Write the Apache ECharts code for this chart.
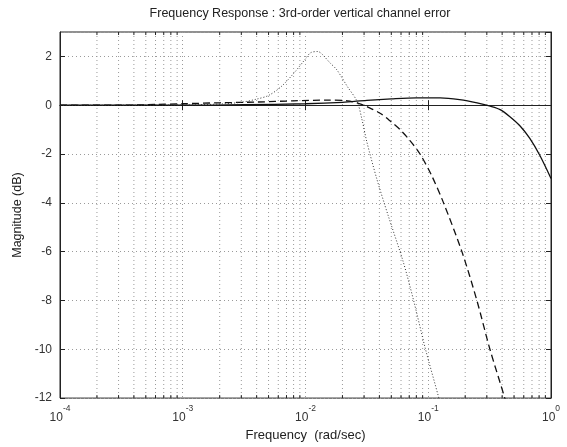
<!DOCTYPE html>
<html>
<head>
<meta charset="utf-8">
<script src="https://cdn.jsdelivr.net/npm/echarts@6/dist/echarts.min.js"></script>
<style>
html,body{margin:0;padding:0;background:#fff;}
#chart{width:567px;height:447px;}
</style>
</head>
<body>
<div id="chart"></div>
<script>
// ---- data (frequency in rad/sec, magnitude in dB) ----
var solidFreq = [0.0001, 0.001, 0.00316, 0.01, 0.02, 0.0316, 0.05, 0.08, 0.125, 0.18, 0.25, 0.32, 0.385, 0.46, 0.56, 0.67, 0.81, 1.0];
var solidDb   = [0, 0, 0.02, 0.06, 0.12, 0.2, 0.26, 0.3, 0.3, 0.23, 0.1, -0.04, -0.18, -0.46, -0.85, -1.35, -2.05, -3.0];

var dashedFreq = [0.0001, 0.0003, 0.0006, 0.001, 0.002, 0.004, 0.008, 0.015, 0.022, 0.0278, 0.0317, 0.0405, 0.0488, 0.0589, 0.071, 0.0857, 0.107, 0.132, 0.188, 0.249, 0.318, 0.42, 0.46];
var dashedDb   = [0, 0, 0.03, 0.06, 0.1, 0.13, 0.18, 0.21, 0.18, 0.06, -0.06, -0.33, -0.64, -1.0, -1.45, -2.0, -2.9, -3.95, -6, -8, -10, -12, -12.8];

var dottedFreq = [0.0001, 0.001, 0.002, 0.003, 0.004, 0.005, 0.0063, 0.008, 0.01, 0.011, 0.0126, 0.0136, 0.0158, 0.018, 0.0219, 0.0263, 0.0288, 0.0316, 0.038, 0.047, 0.0624, 0.076, 0.095, 0.122, 0.13];
var dottedDb   = [0, 0.01, 0.05, 0.12, 0.25, 0.4, 0.75, 1.3, 1.9, 2.15, 2.2, 2.1, 1.74, 1.45, 0.77, 0.16, -0.57, -1.5, -3.0, -4.5, -6.4, -8, -10, -12, -12.6];

var xMin = 0.0001, xMax = 1;
var yMin = -12, yMax = 3, yStep = 2;
var minorMultipliers = [2, 3, 4, 5, 6, 7, 8, 9];
var decades = [0.0001, 0.001, 0.01, 0.1];

var titleText = 'Frequency Response : 3rd-order vertical channel error';
var xName = 'Frequency  (rad/sec)';
var yName = 'Magnitude (dB)';

function pairs(xs, ys) { return xs.map(function (x, i) { return [x, ys[i]]; }); }

var minorFreqs = [];
decades.forEach(function (d) { minorMultipliers.forEach(function (m) { minorFreqs.push(+(d * m).toPrecision(3)); }); });

var chart = echarts.init(document.getElementById('chart'), null, { renderer: 'canvas' });

var gridCol = '#9a9a9a';
var axisCol = '#222';
var fontFam = '"Liberation Sans", Arial, sans-serif';

var option = {
  animation: false,
  backgroundColor: '#fff',
  title: {
    text: titleText,
    left: 295, top: 2, textAlign: 'center',
    textStyle: { fontFamily: fontFam, fontSize: 12.5, fontWeight: 'normal', color: '#222' }
  },
  grid: { left: 60, right: 16, top: 32, bottom: 44, show: true, borderColor: axisCol, borderWidth: 1 },
  xAxis: [{
    type: 'log', logBase: 10, min: xMin, max: xMax, interval: 1,
    position: 'bottom',
    name: xName, nameLocation: 'middle', nameGap: 29,
    nameTextStyle: { fontFamily: fontFam, fontSize: 13, color: '#222' },
    axisLine: { show: true, lineStyle: { color: axisCol } },
    axisTick: { show: true, inside: true, length: 5, lineStyle: { color: axisCol } },
    splitLine: { show: true, lineStyle: { color: gridCol, type: [1, 3] } },
    axisLabel: {
      margin: 6,
      fontFamily: fontFam, fontSize: 12, color: '#333',
      formatter: function (v) { return '{b|10}{sup|' + Math.round(Math.log10(v)) + '}'; },
      rich: {
        b: { fontFamily: fontFam, fontSize: 12, color: '#333', lineHeight: 20, verticalAlign: 'bottom' },
        sup: { fontFamily: fontFam, fontSize: 8.5, color: '#333', lineHeight: 10, verticalAlign: 'top' }
      }
    }
  }, {
    type: 'log', logBase: 10, min: xMin, max: xMax, interval: 1,
    position: 'top',
    axisLine: { show: true, lineStyle: { color: axisCol } },
    axisTick: { show: true, inside: true, length: 5, lineStyle: { color: axisCol } },
    axisLabel: { show: false }, splitLine: { show: false }
  }],
  yAxis: [{
    type: 'value', min: yMin, max: yMax, interval: yStep,
    position: 'left',
    name: yName, nameLocation: 'middle', nameGap: 32,
    nameTextStyle: { fontFamily: fontFam, fontSize: 12.5, color: '#222' },
    axisLine: { show: true, lineStyle: { color: axisCol } },
    axisTick: { show: true, inside: true, length: 5, lineStyle: { color: axisCol } },
    splitLine: { show: true, lineStyle: { color: gridCol, type: [1, 3] } },
    axisLabel: { showMaxLabel: false, margin: 8, fontFamily: fontFam, fontSize: 12, color: '#333' }
  }, {
    type: 'value', min: yMin, max: yMax, interval: yStep,
    position: 'right',
    axisLine: { show: true, lineStyle: { color: axisCol } },
    axisTick: { show: true, inside: true, length: 5, lineStyle: { color: axisCol } },
    axisLabel: { show: false }, splitLine: { show: false }
  }],
  series: [{
    type: 'custom', silent: true, z: 1,
    xAxisIndex: 0, yAxisIndex: 0,
    data: minorFreqs.map(function (f) { return [f]; }),
    renderItem: function (params, api) {
      var f = api.value(0);
      var top = api.coord([f, yMax]);
      var bot = api.coord([f, yMin]);
      return {
        type: 'group',
        children: [{
          type: 'line',
          shape: { x1: top[0], y1: top[1], x2: bot[0], y2: bot[1] },
          style: { stroke: gridCol, lineWidth: 1, lineDash: [1, 3] }
        }, {
          type: 'line',
          shape: { x1: bot[0], y1: bot[1], x2: bot[0], y2: bot[1] - 3 },
          style: { stroke: axisCol, lineWidth: 1 }
        }, {
          type: 'line',
          shape: { x1: top[0], y1: top[1], x2: top[0], y2: top[1] + 3 },
          style: { stroke: axisCol, lineWidth: 1 }
        }]
      };
    }
  }, {
    type: 'line', name: 'solid', data: pairs(solidFreq, solidDb),
    smooth: 0.3, symbol: 'none', clip: true, z: 3,
    lineStyle: { color: '#111', width: 1.3, type: 'solid' }
  }, {
    type: 'line', name: 'dashed', data: pairs(dashedFreq, dashedDb),
    smooth: 0.3, symbol: 'none', clip: true, z: 3,
    lineStyle: { color: '#111', width: 1.3, type: [7, 4] }
  }, {
    type: 'line', name: 'dotted', data: pairs(dottedFreq, dottedDb),
    smooth: 0.3, symbol: 'none', clip: true, z: 3,
    lineStyle: { color: '#333', width: 1, type: [1, 2] }
  }]
};
chart.setOption(option);
</script>
</body>
</html>
